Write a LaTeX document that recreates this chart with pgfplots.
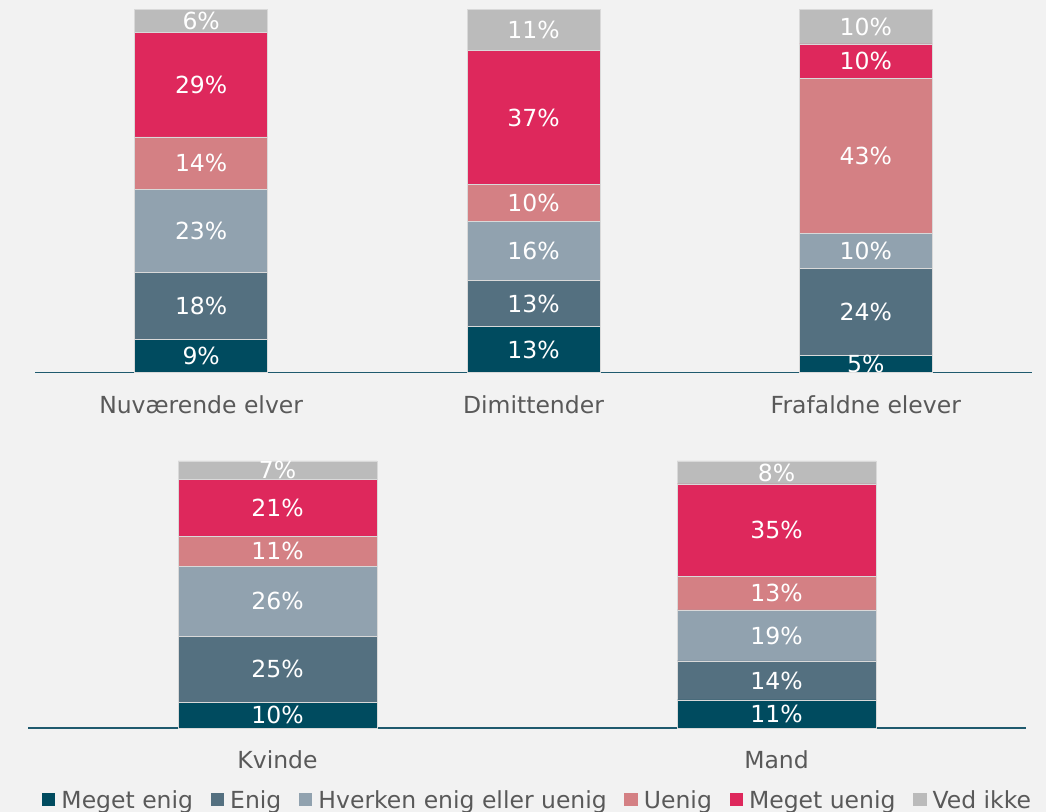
\documentclass[border=0pt]{standalone}
\usepackage{pgfplots}
\usepackage{pgfplotstable}
\pgfplotsset{compat=1.18}
\usepackage{fontspec}
\setmainfont{DejaVu Sans}
\definecolor{bg}{HTML}{F2F2F2}
\definecolor{c1}{HTML}{004B5F}
\definecolor{c2}{HTML}{547080}
\definecolor{c3}{HTML}{91A2AF}
\definecolor{c4}{HTML}{D48084}
\definecolor{c5}{HTML}{DE285C}
\definecolor{c6}{HTML}{BBBBBB}
\definecolor{axc}{HTML}{1F5A6E}
\definecolor{txt}{HTML}{595959}

\pgfplotsset{
  panel/.style={
    scale only axis,
    ybar stacked,
    ymin=0, ymax=100,
    enlargelimits=false,
    axis x line=bottom,
    axis y line=none,
    x axis line style={draw=axc, line width=0.75pt, -},
    every outer x axis line/.append style={-},
    xtick=data,
    xtick style={draw=none},
    major tick length=0pt,
    ytick=\empty,
    xticklabel style={text=txt, font=\fontsize{11.75}{14}\selectfont, yshift=-8pt},
    clip=false,
    point meta=explicit symbolic,
    nodes near coords={\pgfplotspointmeta\%},
    nodes near coords align=center,
    every node near coord/.append style={text=white, font=\fontsize{11.75}{14}\selectfont, anchor=center},
  },
  seg/.style={fill=#1, draw=white!85!black, line width=0.4pt}
}

\pgfplotstableread{
x  a     la  b     lb  c     lc  d     ld  e     le  f    lf
0  9.2   9   18.4  18  22.7  23  14.6  14  28.7  29  6.4  6
1  12.6  13  12.8  13  16.2  16  10.2  10  36.8  37  11.4 11
2  4.7   5   23.9  24  9.6   10  42.8  43  9.5   10  9.5  10
}\toptable

\pgfplotstableread{
x  a     la  b     lb  c     lc  d     ld  e     le  f    lf
0  9.7   10  24.7  25  26.2  26  11.2  11  21.3  21  6.9  7
1  10.5  11  14.6  14  19.1  19  12.4  13  34.8  35  8.6  8
}\bottable

\begin{document}
\begin{tikzpicture}
\fill[bg] (0,0) rectangle (523pt,406pt);

\begin{axis}[panel,
  at={(17.5pt,219.75pt)}, anchor=south west,
  width=498.5pt, height=181.5pt,
  xmin=-0.5, xmax=2.5, bar width=66.5pt,
  xticklabels={Nuværende elver, Dimittender, Frafaldne elever}]
\addplot[seg=c1] table[x=x,y=a,meta=la]{\toptable};
\addplot[seg=c2] table[x=x,y=b,meta=lb]{\toptable};
\addplot[seg=c3] table[x=x,y=c,meta=lc]{\toptable};
\addplot[seg=c4] table[x=x,y=d,meta=ld]{\toptable};
\addplot[seg=c5] table[x=x,y=e,meta=le]{\toptable};
\addplot[seg=c6] table[x=x,y=f,meta=lf]{\toptable};
\end{axis}

\begin{axis}[panel,
  at={(14pt,42pt)}, anchor=south west,
  width=499pt, height=133.5pt,
  xmin=-0.5, xmax=1.5, bar width=99.5pt,
  xticklabels={Kvinde, Mand},
  legend columns=6,
  legend style={at={(0.01403,-0.2735)}, anchor=west, draw=none, fill=none,
    inner sep=0pt, outer sep=0pt, text=txt,
    font=\fontsize{11.75}{14}\selectfont,
    column sep=0pt, nodes={inner sep=0pt},
    /tikz/every odd column/.append style={column sep=3pt},
    /tikz/every even column/.append style={column sep=8.8pt}},
  legend cell align=left,
  legend image code/.code={\fill[#1,draw=none] (0pt,-2.5pt) rectangle (6.75pt,4.25pt);}]
\addplot[seg=c1] table[x=x,y=a,meta=la]{\bottable};
\addplot[seg=c2] table[x=x,y=b,meta=lb]{\bottable};
\addplot[seg=c3] table[x=x,y=c,meta=lc]{\bottable};
\addplot[seg=c4] table[x=x,y=d,meta=ld]{\bottable};
\addplot[seg=c5] table[x=x,y=e,meta=le]{\bottable};
\addplot[seg=c6] table[x=x,y=f,meta=lf]{\bottable};
\legend{Meget enig, Enig, Hverken enig eller uenig, Uenig, Meget uenig, Ved ikke}
\end{axis}
\end{tikzpicture}
\end{document}
